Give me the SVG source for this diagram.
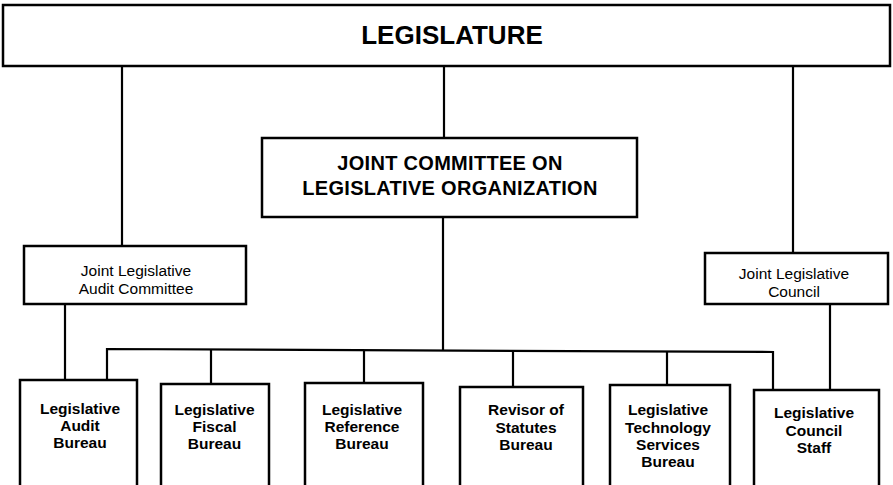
<svg xmlns="http://www.w3.org/2000/svg" width="893" height="485" viewBox="0 0 893 485">
<style>
rect{fill:#fff;stroke:#000;stroke-width:2.5}
.c line,.c polyline{stroke:#000;stroke-width:2.2;fill:none}
text{font-family:"Liberation Sans",Arial,sans-serif;fill:#000;text-anchor:middle}
.h1{font-size:26px;font-weight:bold}
.h2{font-size:20px;font-weight:bold;letter-spacing:0.3px}
.r{font-size:15.5px}
.b{font-size:15.5px;font-weight:bold}
</style>
<g class="c" id="connectors">
<line x1="122" y1="66" x2="122" y2="246"/>
<line x1="444" y1="66" x2="444" y2="138"/>
<line x1="793" y1="66" x2="793" y2="253"/>
<line x1="65" y1="304" x2="65" y2="380"/>
<line x1="830" y1="304" x2="830" y2="390"/>
<line x1="443" y1="217" x2="443" y2="350"/>
<polyline points="107,380 107,349 773,352 773,390"/>
<line x1="211" y1="349.5" x2="211" y2="384"/>
<line x1="364" y1="350" x2="364" y2="383"/>
<line x1="513" y1="351" x2="513" y2="387"/>
<line x1="667" y1="351.5" x2="667" y2="385"/>
</g>
<g id="legislature">
<rect x="3" y="5" width="887" height="61"/>
<text class="h1" x="452" y="44">LEGISLATURE</text>
</g>
<g id="jclo">
<rect x="262" y="138" width="375" height="79"/>
<text class="h2" x="450" y="170">JOINT COMMITTEE ON</text>
<text class="h2" x="450" y="195">LEGISLATIVE ORGANIZATION</text>
</g>
<g id="jlac">
<rect x="24" y="246" width="222" height="58"/>
<text class="r" x="136" y="276">Joint Legislative</text>
<text class="r" x="136" y="294">Audit Committee</text>
</g>
<g id="jlc">
<rect x="705" y="253" width="183" height="51"/>
<text class="r" x="794" y="279">Joint Legislative</text>
<text class="r" x="794" y="297">Council</text>
</g>
<g id="lab">
<rect x="20" y="380" width="117" height="120"/>
<text class="b" x="80" y="414">Legislative</text>
<text class="b" x="80" y="431">Audit</text>
<text class="b" x="80" y="448">Bureau</text>
</g>
<g id="lfb">
<rect x="161" y="384" width="108" height="120"/>
<text class="b" x="214.5" y="415">Legislative</text>
<text class="b" x="214.5" y="432">Fiscal</text>
<text class="b" x="214.5" y="449">Bureau</text>
</g>
<g id="lrb">
<rect x="305" y="383" width="118" height="120"/>
<text class="b" x="362" y="415">Legislative</text>
<text class="b" x="362" y="432">Reference</text>
<text class="b" x="362" y="449">Bureau</text>
</g>
<g id="rsb">
<rect x="460" y="387" width="123" height="120"/>
<text class="b" x="526" y="415">Revisor of</text>
<text class="b" x="526" y="433">Statutes</text>
<text class="b" x="526" y="450">Bureau</text>
</g>
<g id="ltsb">
<rect x="610" y="385" width="120" height="120"/>
<text class="b" x="668" y="415">Legislative</text>
<text class="b" x="668" y="433">Technology</text>
<text class="b" x="668" y="450">Services</text>
<text class="b" x="668" y="467">Bureau</text>
</g>
<g id="lcs">
<rect x="754" y="390" width="125" height="120"/>
<text class="b" x="814" y="418">Legislative</text>
<text class="b" x="814" y="436">Council</text>
<text class="b" x="814" y="453">Staff</text>
</g>
</svg>
